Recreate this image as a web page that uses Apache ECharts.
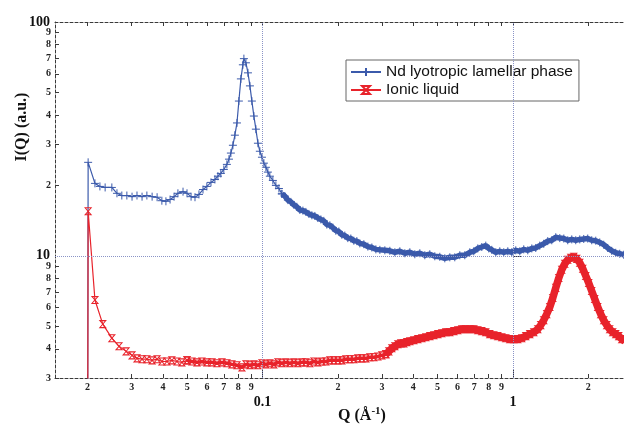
<!DOCTYPE html>
<html>
<head>
<meta charset="utf-8">
<script src="https://cdn.jsdelivr.net/npm/echarts@6/dist/echarts.min.js"></script>
<style>
  html, body { margin: 0; padding: 0; background: #fff; }
  #chart { width: 624px; height: 427px; }
</style>
</head>
<body>
<div id="chart"></div>
<script>
// Scattering intensity I(Q) versus Q, both on log scales.

// Nd lyotropic lamellar phase
const lamellarQ = [0.0200, 0.0201, 0.0214, 0.0224, 0.0235, 0.0250, 0.0262, 0.0274, 0.0287, 0.0301,
  0.0315, 0.0330, 0.0345, 0.0362, 0.0379, 0.0396, 0.0411, 0.0427, 0.0443, 0.0459,
  0.0481, 0.0499, 0.0518, 0.0537, 0.0557, 0.0578, 0.0599, 0.0622, 0.0645, 0.0663,
  0.0681, 0.0700, 0.0720, 0.0734, 0.0747, 0.0761, 0.0775, 0.0790, 0.0804, 0.0819,
  0.0834, 0.0842, 0.0858, 0.0874, 0.0890, 0.0906, 0.0923, 0.0940, 0.0958, 0.0975,
  0.0994, 0.1012, 0.1031, 0.1050, 0.1069, 0.1099, 0.1130, 0.1162, 0.1194, 0.1227,
  0.1262, 0.1297, 0.1334, 0.1370, 0.1409, 0.1449, 0.1489, 0.1531, 0.1573, 0.1617,
  0.1662, 0.1709, 0.1756, 0.1805, 0.1856, 0.1908, 0.1961, 0.2016, 0.2073, 0.2130,
  0.2190, 0.2251, 0.2314, 0.2379, 0.2445, 0.2537, 0.2633, 0.2731, 0.2834, 0.2940,
  0.3078, 0.3223, 0.3375, 0.3533, 0.3699, 0.3873, 0.4055, 0.4246, 0.4445, 0.4654,
  0.4873, 0.5102, 0.5342, 0.5594, 0.5856, 0.6132, 0.6420, 0.6724, 0.6975, 0.7236,
  0.7507, 0.7787, 0.8006, 0.8230, 0.8539, 0.8858, 0.9189, 0.9535, 0.9891, 1.026,
  1.065, 1.104, 1.146, 1.189, 1.233, 1.279, 1.327, 1.377, 1.429, 1.482,
  1.538, 1.596, 1.655, 1.717, 1.781, 1.848, 1.917, 1.989, 2.063, 2.141,
  2.221, 2.304, 2.390, 2.480, 2.573, 2.669, 2.769];
const lamellarI = [1, 25.1, 20.4, 19.8, 19.6, 19.6, 18.5, 18.1, 18.1, 17.9,
  18.1, 17.9, 18.1, 17.9, 17.8, 17.2, 17.1, 17.4, 17.9, 18.5,
  18.8, 18.5, 17.9, 17.8, 18.3, 19.2, 19.8, 20.6, 21.2, 21.9,
  22.5, 23.4, 24.6, 25.9, 27.5, 29.7, 32.8, 37.0, 45.9, 57.1,
  65.6, 69.7, 66.9, 60.6, 53.3, 45.9, 39.6, 34.8, 30.3, 28.0,
  26.4, 24.9, 23.9, 22.8, 21.9, 21.0, 20.0, 19.4, 18.4, 18.0,
  17.3, 17.0, 16.5, 16.2, 15.7, 15.6, 15.4, 15.1, 14.9, 14.8,
  14.5, 14.3, 14.1, 13.6, 13.5, 13.2, 12.8, 12.7, 12.3, 12.2,
  11.9, 11.85, 11.6, 11.55, 11.3, 11.2, 10.95, 10.85, 10.65, 10.6,
  10.55, 10.5, 10.35, 10.45, 10.25, 10.35, 10.15, 10.25, 10.05, 10.15,
  9.95, 9.9, 9.75, 9.85, 9.85, 10.05, 10.05, 10.35, 10.45, 10.75,
  10.9, 11.05, 10.75, 10.6, 10.35, 10.45, 10.35, 10.45, 10.35, 10.55,
  10.45, 10.65, 10.55, 10.75, 10.8, 11.05, 11.25, 11.55, 11.65, 12.0,
  11.9, 11.85, 11.65, 11.75, 11.65, 11.75, 11.8, 11.85, 11.65, 11.6,
  11.4, 11.15, 10.8, 10.5, 10.3, 10.2, 10.1];

// Ionic liquid
const ionicQ = [0.0200, 0.0201, 0.0214, 0.0230, 0.0250, 0.0267, 0.0285, 0.0301, 0.0315, 0.0330,
  0.0345, 0.0362, 0.0379, 0.0396, 0.0415, 0.0434, 0.0455, 0.0476, 0.0499, 0.0522,
  0.0547, 0.0572, 0.0599, 0.0628, 0.0657, 0.0688, 0.0720, 0.0754, 0.0790, 0.0827,
  0.0858, 0.0890, 0.0923, 0.0958, 0.0994, 0.1031, 0.1069, 0.1109, 0.1151, 0.1194,
  0.1238, 0.1285, 0.1334, 0.1383, 0.1435, 0.1489, 0.1545, 0.1603, 0.1662, 0.1724,
  0.1789, 0.1856, 0.1926, 0.1998, 0.2073, 0.2150, 0.2231, 0.2314, 0.2401, 0.2491,
  0.2585, 0.2681, 0.2782, 0.2886, 0.2994, 0.3106, 0.3193, 0.3283, 0.3375, 0.3469,
  0.3566, 0.3666, 0.3767, 0.3873, 0.4018, 0.4169, 0.4325, 0.4487, 0.4654, 0.4829,
  0.5010, 0.5198, 0.5392, 0.5594, 0.5804, 0.6021, 0.6247, 0.6481, 0.6724, 0.6975,
  0.7236, 0.7507, 0.7787, 0.8080, 0.8382, 0.8697, 0.9022, 0.9361, 0.9710, 1.007,
  1.045, 1.084, 1.125, 1.167, 1.211, 1.256, 1.291, 1.327, 1.364, 1.403,
  1.442, 1.482, 1.524, 1.566, 1.610, 1.655, 1.701, 1.749, 1.798, 1.848,
  1.900, 1.953, 2.007, 2.063, 2.121, 2.180, 2.241, 2.304, 2.368, 2.434,
  2.503, 2.573, 2.645, 2.719, 2.795];
const ionicI = [1, 15.5, 6.47, 5.1, 4.44, 4.10, 3.90, 3.75, 3.64, 3.61,
  3.61, 3.57, 3.61, 3.53, 3.53, 3.57, 3.53, 3.50, 3.57, 3.53,
  3.50, 3.53, 3.50, 3.50, 3.47, 3.50, 3.47, 3.43, 3.40, 3.33,
  3.43, 3.40, 3.43, 3.40, 3.47, 3.43, 3.47, 3.43, 3.50, 3.47,
  3.50, 3.47, 3.50, 3.47, 3.50, 3.50, 3.47, 3.53, 3.50, 3.53,
  3.53, 3.57, 3.57, 3.57, 3.57, 3.61, 3.61, 3.61, 3.64, 3.64,
  3.64, 3.68, 3.68, 3.71, 3.75, 3.79, 3.90, 4.02, 4.10, 4.18,
  4.22, 4.22, 4.27, 4.31, 4.35, 4.40, 4.44, 4.48, 4.53, 4.57,
  4.62, 4.66, 4.71, 4.71, 4.76, 4.80, 4.85, 4.85, 4.85, 4.85,
  4.80, 4.76, 4.71, 4.62, 4.57, 4.53, 4.48, 4.44, 4.40, 4.40,
  4.40, 4.44, 4.53, 4.62, 4.71, 4.85, 5.05, 5.30, 5.63, 6.04,
  6.60, 7.29, 8.04, 8.71, 9.24, 9.61, 9.8, 9.9, 9.7, 9.33,
  8.8, 8.2, 7.65, 7.07, 6.53, 6.04, 5.63, 5.30, 5.05, 4.85,
  4.71, 4.62, 4.53, 4.40, 4.31];

// Axis ranges and tick labels
const qRange = [0.01482, 2.776];
const iRange = [3, 100];
const qMinorTicks = [0.02, 0.03, 0.04, 0.05, 0.06, 0.07, 0.08, 0.09, 0.2, 0.3, 0.4, 0.5, 0.6, 0.7, 0.8, 0.9, 2];
const qMinorLabels = ['2', '3', '4', '5', '6', '7', '8', '9', '2', '3', '4', '5', '6', '7', '8', '9', '2'];
const qMajorTicks = [0.1, 1];
const qMajorLabels = ['0.1', '1'];
const iMinorTicks = [3, 4, 5, 6, 7, 8, 9, 20, 30, 40, 50, 60, 70, 80, 90];
const iMinorLabels = ['3', '4', '5', '6', '7', '8', '9', '2', '3', '4', '5', '6', '7', '8', '9'];
const iMajorTicks = [10, 100];
const iMajorLabels = ['10', '100'];
const guideQ = [0.1, 1];
const guideI = [10];

const seriesNames = ['Nd lyotropic lamellar phase', 'Ionic liquid'];
const BLUE = '#3b5aab';
const RED = '#e8232b';
const AXIS = '#3a3a3a';
const SERIF = '"Liberation Serif", "Times New Roman", serif';
const SANS = '"Liberation Sans", Arial, sans-serif';

const lg = Math.log10;
const labelFor = (ticks, labels) => (v) => {
  const k = ticks.findIndex(t => Math.abs(lg(t) - v) < 1e-6);
  return k >= 0 ? labels[k] : '';
};
// Points of a curve whose Q lies in [lo, hi]
const pick = (qs, is, lo, hi) => qs.map((q, i) => [q, is[i]]).filter(p => p[0] >= lo && p[0] <= hi);

// Tick/label axes live in log10 units over the same ranges as the data axes.
function scaleAxis(range, extra) {
  return Object.assign({
    type: 'value', gridIndex: 0, min: lg(range[0]), max: lg(range[1]),
    splitLine: { show: false }, axisLine: { show: false },
    axisTick: { show: false }, axisLabel: { show: false }
  }, extra);
}

const minorLabelStyle = { fontFamily: SERIF, fontWeight: 'bold', fontSize: 10, color: '#222' };
const majorLabelStyle = { fontFamily: SERIF, fontWeight: 'bold', fontSize: 14, color: '#111' };
const frameLine = { show: true, onZero: false, lineStyle: { color: AXIS, width: 1, type: [3, 2] } };

const PLUS = 'path://M5,0L5,10M0,5L10,5';
const HOURGLASS = 'path://M0,0L10,0L0,10L10,10Z';

// Sparse points are drawn thin; the densely sampled stretches form a thicker band.
function lamellarPart(lo, hi, width) {
  return {
    name: seriesNames[0], type: 'line', xAxisIndex: 0, yAxisIndex: 0,
    data: pick(lamellarQ, lamellarI, lo, hi),
    symbol: PLUS, symbolSize: 8,
    itemStyle: { color: BLUE, borderColor: BLUE, borderWidth: 1 },
    lineStyle: { color: BLUE, width: width },
    clip: true, z: 3
  };
}
function ionicPart(lo, hi, width) {
  return {
    name: seriesNames[1], type: 'line', xAxisIndex: 0, yAxisIndex: 0,
    data: pick(ionicQ, ionicI, lo, hi),
    symbol: HOURGLASS, symbolSize: [6, 7],
    itemStyle: { color: 'rgba(255,255,255,0)', borderColor: RED, borderWidth: 1 },
    lineStyle: { color: RED, width: width },
    clip: true, z: 4
  };
}

const lamellarSparse = lamellarPart(0, 0.1195, 1.2);
lamellarSparse.markLine = {
  silent: true, symbol: ['none', 'none'], label: { show: false },
  lineStyle: { color: '#8a93c6', width: 1, type: 'dotted' },
  data: guideQ.map(q => ({ xAxis: q })).concat(guideI.map(v => ({ yAxis: v })))
};

const chart = echarts.init(document.getElementById('chart'), null, { renderer: 'canvas' });

chart.setOption({
  animation: false,
  backgroundColor: '#fff',
  grid: { left: 55, right: 0, top: 22, bottom: 49, containLabel: false },
  legend: {
    orient: 'vertical', left: 346, top: 60,
    padding: [4, 6, 3, 4], itemGap: 2, itemWidth: 30, itemHeight: 10,
    borderColor: '#666', borderWidth: 1, backgroundColor: '#fff',
    textStyle: { fontFamily: SANS, fontSize: 15.5, color: '#111' },
    data: seriesNames
  },
  xAxis: [
    { type: 'log', logBase: 10, min: qRange[0], max: qRange[1], show: false },
    scaleAxis(qRange, {
      position: 'bottom', axisLine: frameLine,
      axisTick: { show: true, inside: true, length: 4, customValues: qMinorTicks.map(lg), lineStyle: { color: AXIS } },
      axisLabel: { show: true, margin: 4, customValues: qMinorTicks.map(lg), formatter: labelFor(qMinorTicks, qMinorLabels), ...minorLabelStyle }
    }),
    scaleAxis(qRange, {
      position: 'bottom',
      axisTick: { show: true, inside: true, length: 8, customValues: qMajorTicks.map(lg), lineStyle: { color: AXIS } },
      axisLabel: { show: true, margin: 17, customValues: qMajorTicks.map(lg), formatter: labelFor(qMajorTicks, qMajorLabels), ...majorLabelStyle }
    }),
    scaleAxis(qRange, {
      position: 'top', axisLine: frameLine,
      axisTick: { show: true, inside: true, length: 4, customValues: qMinorTicks.concat(qMajorTicks).map(lg), lineStyle: { color: AXIS } }
    })
  ],
  yAxis: [
    { type: 'log', logBase: 10, min: iRange[0], max: iRange[1], show: false },
    scaleAxis(iRange, {
      position: 'left', axisLine: frameLine,
      axisTick: { show: true, inside: true, length: 4, customValues: iMinorTicks.map(lg), lineStyle: { color: AXIS } },
      axisLabel: { show: true, margin: 4, customValues: iMinorTicks.map(lg), formatter: labelFor(iMinorTicks, iMinorLabels), ...minorLabelStyle }
    }),
    scaleAxis(iRange, {
      position: 'left',
      axisTick: { show: true, inside: true, length: 8, customValues: iMajorTicks.map(lg), lineStyle: { color: AXIS } },
      axisLabel: { show: true, margin: 5, customValues: iMajorTicks.map(lg), formatter: labelFor(iMajorTicks, iMajorLabels), ...majorLabelStyle }
    })
  ],
  graphic: [
    {
      type: 'text', x: 22, y: 127, rotation: Math.PI / 2,
      style: { text: 'I(Q) (a.u.)', font: 'bold 16px ' + SERIF, fill: '#111', textAlign: 'center', textVerticalAlign: 'middle' }
    },
    {
      type: 'text', x: 362, y: 416,
      style: {
        text: '{a|Q (Å}{s|-1}{a|)}', textAlign: 'center', textVerticalAlign: 'middle',
        rich: {
          a: { font: 'bold 16px ' + SERIF, fill: '#111', lineHeight: 20 },
          s: { font: 'bold 11px ' + SERIF, fill: '#111', lineHeight: 20, padding: [0, 0, 9, 0] }
        }
      }
    }
  ],
  series: [
    lamellarSparse,
    lamellarPart(0.1194, 3, 5.5),
    ionicPart(0, 0.0500, 1.2),
    ionicPart(0.0499, 0.311, 3.5),
    ionicPart(0.3106, 3, 7.5)
  ]
});
</script>
</body>
</html>
